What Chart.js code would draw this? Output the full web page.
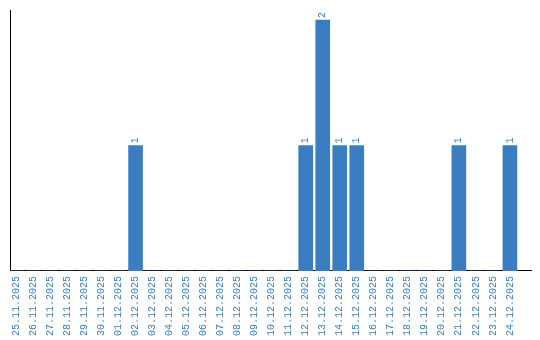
<!DOCTYPE html>
<html>
<head>
<meta charset="utf-8">
<script src="https://cdn.jsdelivr.net/npm/chart.js@4"></script>
<style>
  body { margin: 0; background: #fff; }
  #wrap { width: 540px; height: 340px; }
</style>
</head>
<body>
<div id="wrap"><canvas id="dayChart" width="540" height="340"></canvas></div>
<script>
const dates = [
  "25.11.2025", "26.11.2025", "27.11.2025", "28.11.2025", "29.11.2025",
  "30.11.2025", "01.12.2025", "02.12.2025", "03.12.2025", "04.12.2025",
  "05.12.2025", "06.12.2025", "07.12.2025", "08.12.2025", "09.12.2025",
  "10.12.2025", "11.12.2025", "12.12.2025", "13.12.2025", "14.12.2025",
  "15.12.2025", "16.12.2025", "17.12.2025", "18.12.2025", "19.12.2025",
  "20.12.2025", "21.12.2025", "22.12.2025", "23.12.2025", "24.12.2025",
];
const counts = [
  0, 0, 0, 0, 0, 0, 0, 1, 0, 0,
  0, 0, 0, 0, 0, 0, 0, 1, 2, 1,
  1, 0, 0, 0, 0, 0, 1, 0, 0, 1,
];

const blue = "#3b7dc1";
const monoFont = "'Liberation Mono', 'DejaVu Sans Mono', monospace";

// writes the count above each bar, turned on its side
const valueLabels = {
  id: "valueLabels",
  afterDatasetsDraw(chart) {
    const ctx = chart.ctx;
    const meta = chart.getDatasetMeta(0);
    ctx.save();
    ctx.fillStyle = blue;
    ctx.font = "10px " + monoFont;
    ctx.textAlign = "left";
    ctx.textBaseline = "middle";
    meta.data.forEach((bar, i) => {
      if (!counts[i]) return;
      ctx.save();
      ctx.translate(bar.x, bar.y - 2);
      ctx.rotate(-Math.PI / 2);
      ctx.fillText(String(counts[i]), 0, 0);
      ctx.restore();
    });
    ctx.restore();
  },
};

const ctx = document.getElementById("dayChart").getContext("2d");
const dayChart = new Chart(ctx, {
  type: "bar",
  data: {
    datasets: [
      {
        data: counts.map((v, i) => ({ x: i, y: v })),
        backgroundColor: blue,
        barThickness: 14,
      },
    ],
  },
  options: {
    responsive: false,
    animation: false,
    layout: { padding: { top: 10, left: 10, right: 9, bottom: -1 } },
    plugins: {
      legend: { display: false },
      tooltip: { enabled: false },
    },
    scales: {
      x: {
        type: "linear",
        offset: false,
        min: -0.38,
        max: 30.24,
        grid: { display: false, drawTicks: false },
        border: { display: true, color: "#000", width: 1 },
        afterFit: (scale) => {
          scale.paddingLeft = 0;
          scale.paddingRight = 0;
        },
        ticks: {
          stepSize: 1,
          autoSkip: false,
          includeBounds: false,
          minRotation: 90,
          maxRotation: 90,
          padding: 5,
          color: blue,
          font: { size: 10, family: monoFont },
          callback: (v) => dates[v] || "",
        },
      },
      y: {
        min: 0,
        max: 2.08,
        grid: { display: false, drawTicks: false },
        border: { display: true, color: "#000", width: 1 },
        ticks: { display: false },
      },
    },
  },
  plugins: [valueLabels],
});
</script>
</body>
</html>
